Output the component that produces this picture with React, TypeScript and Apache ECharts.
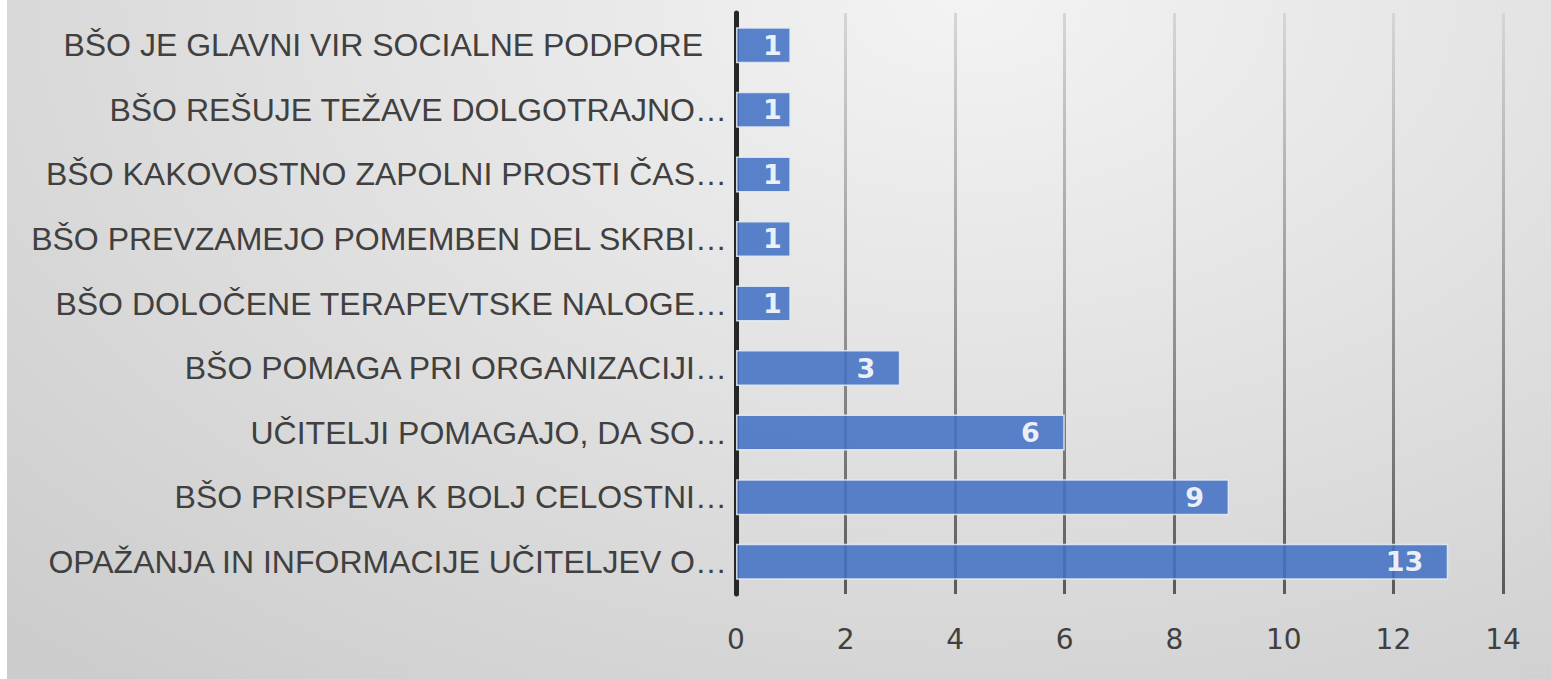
import React, { useEffect, useRef } from "react";
import * as echarts from "echarts";

const categories = [
  "BŠO JE GLAVNI VIR SOCIALNE PODPORE",
  "BŠO REŠUJE TEŽAVE DOLGOTRAJNO…",
  "BŠO KAKOVOSTNO ZAPOLNI PROSTI ČAS…",
  "BŠO PREVZAMEJO POMEMBEN DEL SKRBI…",
  "BŠO DOLOČENE TERAPEVTSKE NALOGE…",
  "BŠO POMAGA PRI ORGANIZACIJI…",
  "UČITELJI POMAGAJO, DA SO…",
  "BŠO PRISPEVA K BOLJ CELOSTNI…",
  "OPAŽANJA IN INFORMACIJE UČITELJEV O…",
];
const values = [1, 1, 1, 1, 1, 3, 6, 9, 13];
const xMin = 0;
const xMax = 14;
const xInterval = 2;

export default function App() {
  const ref = useRef<HTMLDivElement>(null);
  useEffect(() => {
    if (!ref.current) return;
    const chart = echarts.init(ref.current, undefined, { renderer: "svg" });
    const font = "'Liberation Sans', Arial, sans-serif";
    const labelSize = 32;
    chart.setOption({
      animation: false,
      backgroundColor: "transparent",
      grid: { left: 736, right: 48, top: 13, bottom: 85, containLabel: false },
      xAxis: {
        type: "value",
        min: xMin,
        max: xMax,
        interval: xInterval,
        axisLine: { show: false },
        axisTick: { show: false },
        axisLabel: {
          color: "#404040",
          fontFamily: "'DejaVu Sans', sans-serif",
          fontSize: 28,
          margin: 31,
        },
        splitLine: {
          show: true,
          lineStyle: {
            width: 3,
            color: new echarts.graphic.LinearGradient(
              0, 13, 0, 594,
              [
                { offset: 0, color: "#d6d6d6" },
                { offset: 1, color: "#5a5a5a" },
              ],
              true
            ),
          },
        },
      },
      yAxis: {
        type: "category",
        inverse: true,
        data: categories,
        axisLine: { show: true, lineStyle: { color: "#262626", width: 5 } },
        axisTick: { show: false },
        axisLabel: {
          color: "#404040",
          fontFamily: font,
          fontSize: labelSize,
          margin: 9,
          formatter: (v: string) => (v === categories[0] ? `{p|${v}}` : `{n|${v}}`),
          rich: {
            p: { color: "#404040", fontFamily: font, fontSize: labelSize, padding: [0, 24, 0, 0] },
            n: { color: "#404040", fontFamily: font, fontSize: labelSize },
          },
        },
        splitLine: { show: false },
      },
      series: [
        {
          type: "bar",
          data: values.map((v) => ({
            value: v,
            label: { distance: v < 2 ? 9 : 25 },
          })),
          barWidth: 36,
          itemStyle: {
            color: "#4472c4",
            opacity: 0.88,
            borderColor: "#e4eaf5",
            borderWidth: 1.5,
          },
          label: {
            show: true,
            position: "insideRight",
            distance: 25,
            color: "#ffffff",
            fontFamily: "'DejaVu Sans', sans-serif",
            fontWeight: "bold",
            fontSize: 27,
          },
        },
      ],
    });
    return () => chart.dispose();
  }, []);
  return (
    <div
      style={{
        position: "fixed",
        left: 0,
        top: 0,
        width: 1551,
        height: 679,
        background: "#ffffff",
      }}
    >
      <div
        style={{
          position: "absolute",
          left: 7,
          top: 0,
          right: 0,
          bottom: 0,
          background:
            "radial-gradient(ellipse 90% 130% at 62% 0%, #f3f3f3 0%, #e4e4e4 40%, #cccccc 100%)",
        }}
      />
      <div ref={ref} style={{ position: "absolute", left: 0, top: 0, width: 1551, height: 679 }} />
    </div>
  );
}
